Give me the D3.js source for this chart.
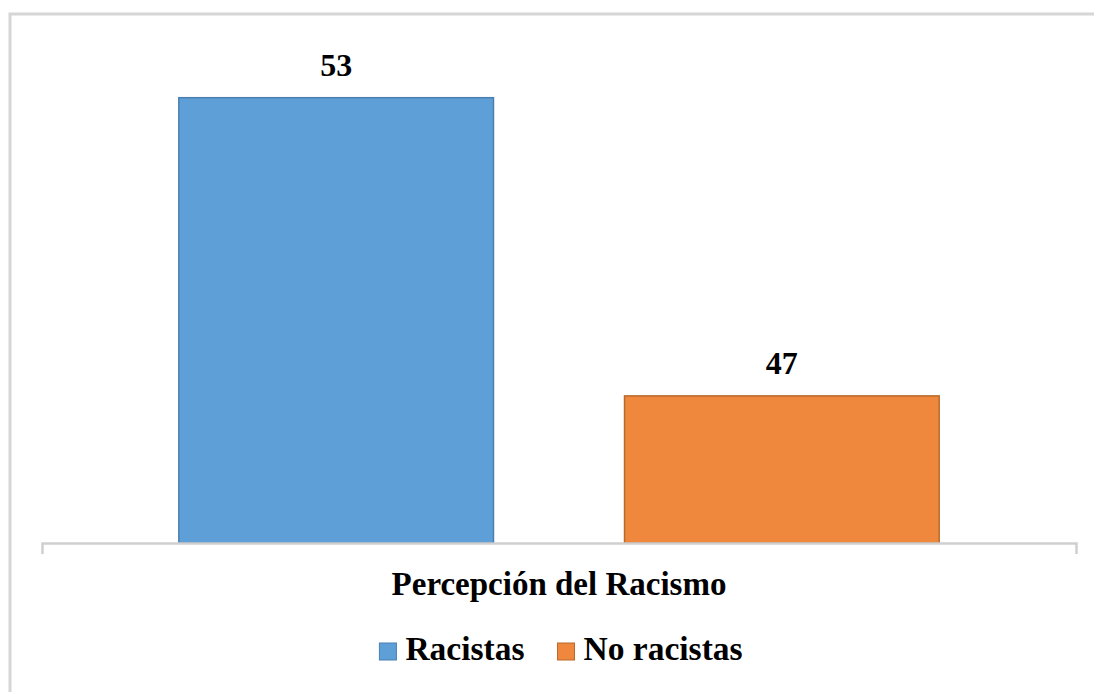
<!DOCTYPE html>
<html>
<head>
<meta charset="utf-8">
<script src="https://cdn.jsdelivr.net/npm/d3@7"></script>
<style>
  body { margin: 0; background: #fff; }
  text { font-family: "Liberation Serif", "Times New Roman", serif; fill: #000; }
</style>
</head>
<body>
<div id="chart"></div>
<script>
// chart data
const categories = ['Percepción del Racismo'];
const series = ['Racistas', 'No racistas'];
const values = [53, 47];
const colors = ['#5f9fd8', '#ef883d'];
const strokes = ['#4a7fb0', '#b8692c'];

const W = 1094, H = 692;
const margin = { top: 48, right: 18, bottom: 149, left: 42 };
const plotW = W - margin.left - margin.right;
const plotH = H - margin.top - margin.bottom;

const svg = d3.select('#chart')
    .append('svg')
    .attr('width', W)
    .attr('height', H);

// frame (top and left edges visible)
svg.append('path')
    .attr('d', `M10,${H} V14 H${W}`)
    .attr('fill', 'none')
    .attr('stroke', '#d6d6d6')
    .attr('stroke-width', 3);

const g = svg.append('g')
    .attr('transform', `translate(${margin.left},${margin.top})`);

// scales
const x0 = d3.scaleBand()
    .domain(categories)
    .range([0, plotW]);

const x1 = d3.scaleBand()
    .domain(series)
    .range([0, x0.bandwidth()])
    .paddingInner(0.294)
    .paddingOuter(0.307);

const y = d3.scaleLinear()
    .domain([44.04, 54])
    .range([plotH, 0]);

// bars
const grp = g.append('g')
    .attr('transform', `translate(${x0(categories[0])},0)`);

grp.selectAll('.bar')
    .data(values)
    .enter()
    .append('rect')
    .attr('class', 'bar')
    .attr('x', (d, i) => x1(series[i]))
    .attr('y', d => y(d))
    .attr('width', x1.bandwidth())
    .attr('height', d => plotH - y(d))
    .attr('fill', (d, i) => colors[i])
    .attr('stroke', (d, i) => strokes[i])
    .attr('stroke-width', 1.5);

// value labels
grp.selectAll('.val')
    .data(values)
    .enter()
    .append('text')
    .attr('class', 'val')
    .attr('x', (d, i) => x1(series[i]) + x1.bandwidth() / 2)
    .attr('y', d => y(d) - 22)
    .attr('text-anchor', 'middle')
    .style('font-size', '32px')
    .style('font-weight', 'bold')
    .text(d => d);

// x axis
const xAxis = g.append('g')
    .attr('class', 'x-axis')
    .attr('transform', `translate(0,${plotH})`)
    .call(d3.axisBottom(x0).tickSize(0).tickSizeOuter(11).tickPadding(0));

xAxis.select('.domain')
    .attr('stroke', '#cfcfcf')
    .attr('stroke-width', 2.5);

xAxis.selectAll('.tick text')
    .attr('dy', null)
    .attr('y', 52)
    .style('font-family', '"Liberation Serif", "Times New Roman", serif')
    .style('font-size', '33px')
    .style('font-weight', 'bold')
    .style('fill', '#000');

// legend
const legend = svg.append('g').attr('class', 'legend');
const items = legend.selectAll('.item')
    .data(series)
    .enter()
    .append('g')
    .attr('class', 'item');

items.append('rect')
    .attr('width', 17)
    .attr('height', 17)
    .attr('y', -17)
    .attr('fill', (d, i) => colors[i])
    .attr('stroke', (d, i) => strokes[i])
    .attr('stroke-width', 1);

items.append('text')
    .attr('x', 26)
    .style('font-size', '33.5px')
    .style('font-weight', 'bold')
    .text(d => d);

let pos = 0;
const offsets = [];
items.each(function() {
    offsets.push(pos);
    pos += this.getBBox().width + 33;
});
const total = pos - 33;
items.attr('transform', (d, i) => `translate(${offsets[i]},0)`);
legend.attr('transform', `translate(${(W - total) / 2 + 14},660)`);
</script>
</body>
</html>
